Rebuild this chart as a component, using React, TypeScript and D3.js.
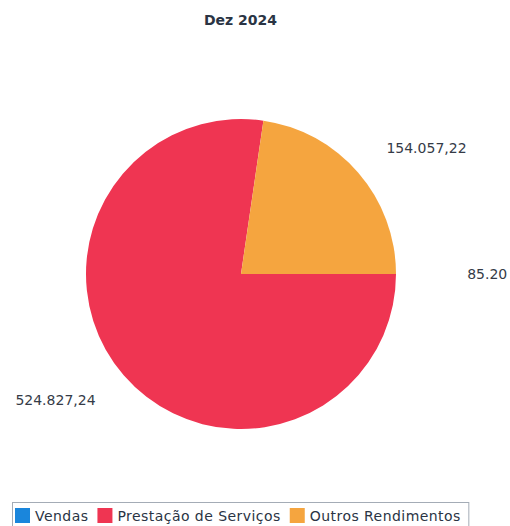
import React, { useEffect, useRef } from "react";
import * as d3 from "d3";

const TITLE = "Dez 2024";
const categories = ["Vendas", "Prestação de Serviços", "Outros Rendimentos"];
const values = [85.2, 524827.24, 154057.22];
const valueLabels = ["85.20", "524.827,24", "154.057,22"];
const colors = ["#1a86dc", "#ef3552", "#f5a53f"];

const W = 510;
const H = 526;

export default function App() {
  const ref = useRef<SVGSVGElement | null>(null);

  useEffect(() => {
    const svg = d3.select(ref.current);
    svg.selectAll("*").remove();

    const cx = 241;
    const cy = 274;
    const R = 155;
    const labelR = R * 1.24;
    const tinyExtra = 34;
    const total = d3.sum(values);

    svg
      .append("text")
      .attr("x", 240.5)
      .attr("y", 25)
      .attr("text-anchor", "middle")
      .attr("font-family", "DejaVu Sans")
      .attr("font-weight", "bold")
      .attr("font-size", 14)
      .attr("fill", "#2a3444")
      .text(TITLE);

    const data = categories.map((c, i) => ({ c, v: values[i], label: valueLabels[i], color: colors[i] }));
    const pie = d3
      .pie<any>()
      .sort(null)
      .value((d: any) => d.v)
      .startAngle(Math.PI / 2)
      .endAngle(Math.PI / 2 + 2 * Math.PI);
    const arcs = pie(data);
    const arc = d3.arc<any>().innerRadius(0).outerRadius(R);

    const g = svg.append("g").attr("transform", `translate(${cx},${cy})`);
    g.selectAll("path")
      .data(arcs)
      .join("path")
      .attr("d", arc as any)
      .attr("fill", (d: any) => d.data.color);

    arcs.forEach((a: any) => {
      const mid = (a.startAngle + a.endAngle) / 2;
      const r = labelR + (a.data.v / total < 0.01 ? tinyExtra : 0);
      const x = Math.sin(mid) * r;
      const y = -Math.cos(mid) * r;
      g.append("text")
        .attr("x", x)
        .attr("y", y)
        .attr("dy", "0.35em")
        .attr("text-anchor", x >= 0 ? "start" : "end")
        .attr("font-family", "DejaVu Sans")
        .attr("font-size", 14)
        .attr("fill", "#353b47")
        .text(a.data.label);
    });

    // legend
    const lg = svg.append("g");
    const box = lg
      .append("rect")
      .attr("x", 12.5)
      .attr("y", 502.5)
      .attr("height", 40)
      .attr("fill", "none")
      .attr("stroke", "#a4acb6")
      .attr("stroke-width", 1);
    let x = 15;
    data.forEach((d) => {
      lg.append("rect")
        .attr("x", x)
        .attr("y", 508)
        .attr("width", 15)
        .attr("height", 15)
        .attr("fill", d.color);
      const t = lg
        .append("text")
        .attr("x", x + 20)
        .attr("y", 521)
        .attr("font-family", "DejaVu Sans")
        .attr("font-size", 14)
        .attr("letter-spacing", 0.45)
        .attr("fill", "#2a3444")
        .text(d.c);
      const w = (t.node() as SVGTextElement).getComputedTextLength();
      x = x + 20 + w + 9;
    });
    box.attr("width", x - 12.5 - 1);
  }, []);

  return (
    <svg
      ref={ref}
      width={W}
      height={H}
      style={{ position: "absolute", left: 0, top: 0, background: "#fff" }}
    />
  );
}
